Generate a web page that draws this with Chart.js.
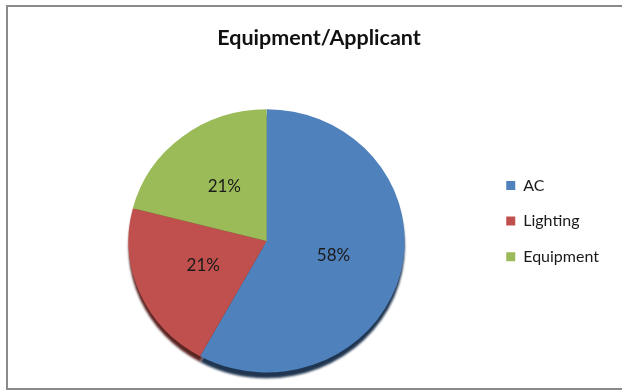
<!DOCTYPE html>
<html><head><meta charset="utf-8">
<script src="https://cdn.jsdelivr.net/npm/chart.js@4/dist/chart.umd.min.js"></script>
<style>
html,body{margin:0;padding:0;background:#fff;}
#wrap{position:relative;width:622px;height:390px;overflow:hidden;}
#frame{position:absolute;left:6px;top:5px;width:640px;height:385px;box-sizing:border-box;border:2px solid #8a8a8a;border-right:none;pointer-events:none;}
</style></head><body>
<div id="wrap"><canvas id="c" width="622" height="390"></canvas><div id="frame"></div></div>
<script>
const chartTitle = 'Equipment/Applicant';
const categories = ['AC', 'Lighting', 'Equipment'];
const shares = [58, 21, 21];
const sliceColors = ['#4F81BD', '#C0504D', '#9BBB59'];
const shadowColors = ['#1F3550', '#5A2422', '#4A5A2A'];

const SY = 0.953; // slight tilt of the pie

const tiltPlugin = {
  id: 'tilt',
  beforeDatasetsDraw(chart) {
    const ctx = chart.ctx;
    const meta = chart.getDatasetMeta(0);
    const a0 = meta.data[0];
    const cx = a0.x, cy = a0.y;
    ctx.save();
    ctx.translate(cx, cy); ctx.scale(1, SY); ctx.translate(-cx, -cy);
    meta.data.forEach((arc, i) => {
      ctx.save();
      ctx.beginPath();
      ctx.moveTo(cx, cy + 6);
      ctx.arc(cx, cy + 6, arc.outerRadius, arc.startAngle, arc.endAngle);
      ctx.closePath();
      ctx.fillStyle = shadowColors[i];
      ctx.filter = 'blur(1px)';
      ctx.fill();
      ctx.restore();
    });
  },
  afterDatasetsDraw(chart) {
    const ctx = chart.ctx;
    ctx.restore();
    const meta = chart.getDatasetMeta(0);
    ctx.save();
    ctx.font = '17px Lato';
    ctx.fillStyle = '#1a1a1a';
    ctx.textAlign = 'center';
    ctx.textBaseline = 'middle';
    meta.data.forEach((arc, i) => {
      const p = arc.tooltipPosition();
      const y = arc.y + (p.y - arc.y) * SY;
      ctx.fillText(shares[i] + '%', p.x, y - 2);
    });
    ctx.restore();
  }
};

new Chart(document.getElementById('c'), {
  type: 'pie',
  data: {
    labels: categories.map(c => [c]),
    datasets: [{
      data: shares,
      backgroundColor: sliceColors,
      borderWidth: 0
    }]
  },
  options: {
    responsive: false,
    animation: false,
    devicePixelRatio: 1,
    layout: { padding: { left: 29, right: 13, top: 10, bottom: 11 } },
    plugins: {
      tooltip: { enabled: false },
      title: {
        display: true,
        text: chartTitle,
        color: '#111',
        font: { family: 'Lato', size: 21.5, weight: 'bold' },
        padding: { top: 15, bottom: 52 }
      },
      legend: {
        position: 'right',
        align: 'start',
        title: { display: true, text: '', font: { size: 15, lineHeight: 1 }, padding: { top: 150.5, bottom: 0 } },
        labels: {
          color: '#1a1a1a',
          font: { family: 'Lato', size: 16, lineHeight: 2.1 },
          boxWidth: 9,
          boxHeight: 9,
          padding: 2
        }
      }
    }
  },
  plugins: [tiltPlugin]
});
</script>
</body></html>
